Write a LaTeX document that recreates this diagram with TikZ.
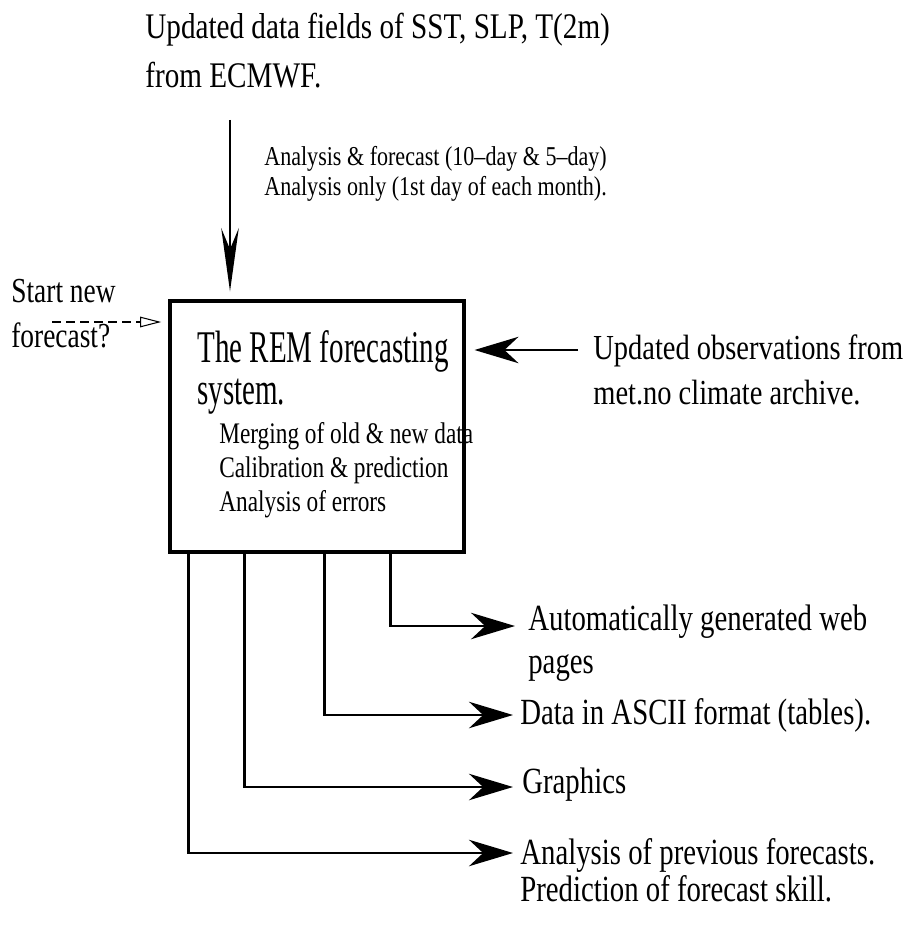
\documentclass[tikz,border=0pt]{standalone}
\usepackage{fontspec}
\setmainfont{Liberation Serif}[FakeStretch=0.78]
\newfontfamily\wideserif{Liberation Serif}[FakeStretch=0.81, Ligatures=TeX]
\newfontfamily\narrowserif{Liberation Serif}[FakeStretch=0.64, Ligatures=TeX]
\usepackage{tikz}
\usetikzlibrary{arrows.meta, positioning, calc}
\definecolor{myink}{RGB}{0,0,0}
\tikzset{
  sysbox/.style={rectangle, draw=myink, line width=2pt,
    minimum width=5.88cm, minimum height=5.02cm, inner sep=0pt},
  txt/.style={anchor=north west, align=left, inner sep=0pt, text=myink},
  arrow/.style={-{Stealth[length=25pt, width=15pt, inset=8pt]}, line width=1.6pt, color=myink},
  downarrow/.style={-{Stealth[length=36pt, width=10pt, inset=12pt]}, line width=1.6pt, color=myink},
  dasharrow/.style={-{Triangle[open, length=12pt, width=6pt]}, dash pattern=on 5pt off 3pt,
    line width=0.6pt, color=myink},
  line/.style={line width=1.6pt, color=myink}
}

\begin{document}
\begin{tikzpicture}[x=0.02cm, y=-0.02cm]
  \useasboundingbox (0,0) rectangle (913,926);

  \node[sysbox] (remsys) at (317,426.5) {};
  \node[txt, font=\wideserif\fontsize{20.5}{28}\selectfont] (ecmwf) at (145,13)
    {Updated data fields of SST, SLP, T(2m)\\from ECMWF.};
  \node[txt, font=\wideserif\fontsize{15.5}{17}\selectfont] (when) at (264,146)
    {Analysis \& forecast (10–day \& 5–day)\\Analysis only (1st day of each month).};
  \node[txt, font=\fontsize{20}{25.6}\selectfont] (start) at (11,279)
    {Start new\\forecast?};
  \node[txt, font=\narrowserif\fontsize{25.8}{24}\selectfont] (remname) at (197,330)
    {The REM forecasting\\system.};
  \node[txt, font=\fontsize{17}{19.4}\selectfont] (steps) at (219,422)
    {Merging of old \& new data\\Calibration \& prediction\\Analysis of errors};
  \node[txt, font=\wideserif\fontsize{20}{25.6}\selectfont] (obs) at (593,334)
    {Updated observations from\\met.no climate archive.};

  \node[txt, font=\fontsize{21}{24}\selectfont] (web) at (528,605)
    {Automatically generated web\\pages};
  \node[txt, anchor=west, font=\fontsize{21}{24}\selectfont] (ascii) at (520,715)
    {Data in ASCII format (tables).};
  \node[txt, anchor=west, font=\fontsize{21}{24}\selectfont] (gfx) at (522,785)
    {Graphics};
  \node[txt, font=\fontsize{21}{21}\selectfont] (skill) at (520,838)
    {Analysis of previous forecasts.\\Prediction of forecast skill.};

  \coordinate (ecmwfin) at (230,120);
  \coordinate (newfc) at (52,322);
  \coordinate (obstail) at (578,350);
  \coordinate (tipweb) at (515,626);
  \coordinate (tipascii) at (513,715);
  \coordinate (tipgfx) at (513,787);
  \coordinate (tipskill) at (513,853);

  \draw[downarrow, shorten >=4.5pt] (ecmwfin) -- (remsys.north -| ecmwfin);
  \draw[dasharrow, shorten >=4pt] (newfc) -- (remsys.west |- newfc);
  \draw[arrow, shorten >=5pt] (obstail) -- (remsys.east |- obstail);

  \draw[arrow] ($(remsys.south west)+(222,0)$) |- (tipweb);
  \draw[arrow] ($(remsys.south west)+(156,0)$) |- (tipascii);
  \draw[arrow] ($(remsys.south west)+(76,0)$) |- (tipgfx);
  \draw[arrow] ($(remsys.south west)+(20,0)$) |- (tipskill);
\end{tikzpicture}
\end{document}
